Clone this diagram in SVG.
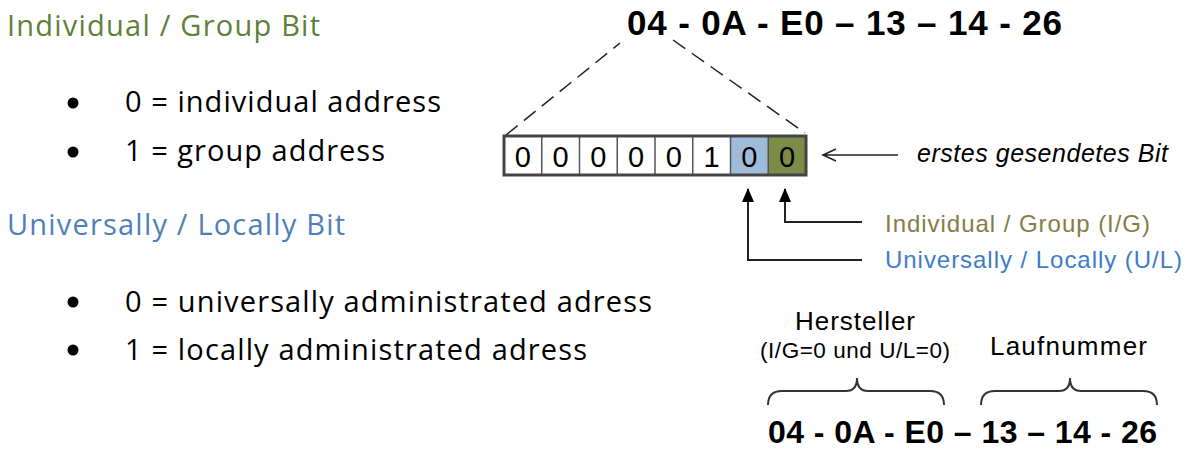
<svg xmlns="http://www.w3.org/2000/svg" width="1191" height="471" viewBox="0 0 1191 471">
<defs>
<style>
.cal{font-family:"Open Sans","Liberation Sans",sans-serif;font-size:29px;fill:#000}
.ar{font-family:"Liberation Sans",Arial,sans-serif}
.bit{font-family:"Liberation Sans",Arial,sans-serif;font-size:29px;fill:#000;text-anchor:middle}
.big{font-family:"Liberation Sans",Arial,sans-serif;font-weight:bold;fill:#000}
.dash{stroke:#222;stroke-width:1.5;stroke-dasharray:15 8;fill:none}
.line{stroke:#222;stroke-width:2;fill:none}
.brace{stroke:#333;stroke-width:2;fill:none}
</style>
<marker id="tri" viewBox="0 0 14 12" refX="13" refY="6" markerWidth="14" markerHeight="12" markerUnits="userSpaceOnUse" orient="auto">
<path d="M0,0 L14,6 L0,12 Z" fill="#000"/>
</marker>
</defs>
<rect width="1191" height="471" fill="#fff"/>

<g id="legend">
<text class="cal" x="7" y="36" style="fill:#5f8038" textLength="313" font-size="31">Individual / Group Bit</text>
<circle cx="73" cy="103" r="5.5" fill="#000"/>
<text class="cal" x="125" y="112" textLength="316">0 = individual address</text>
<circle cx="73" cy="152" r="5.5" fill="#000"/>
<text class="cal" x="125" y="161" textLength="260">1 = group address</text>
<text class="cal" x="7" y="235" style="fill:#4f7fbb" textLength="338" font-size="31">Universally / Locally Bit</text>
<circle cx="73" cy="302" r="5.5" fill="#000"/>
<text class="cal" x="125" y="312" textLength="527">0 = universally administrated adress</text>
<circle cx="73" cy="350" r="5.5" fill="#000"/>
<text class="cal" x="125" y="360" textLength="462">1 = locally administrated adress</text>
</g>

<g id="mac-top">
<text class="big" x="627" y="35" font-size="35" textLength="435">04 - 0A - E0 – 13 – 14 - 26</text>
</g>

<g id="bitfield">
<rect x="504" y="136" width="302" height="39" fill="#fff"/>
<rect x="730.5" y="136" width="37.75" height="39" fill="#a0bbd9"/>
<rect x="768.25" y="136" width="37.75" height="39" fill="#7c8b47"/>
<g stroke="#555" stroke-width="1.5">
<line x1="541.75" y1="136" x2="541.75" y2="175"/>
<line x1="579.5" y1="136" x2="579.5" y2="175"/>
<line x1="617.25" y1="136" x2="617.25" y2="175"/>
<line x1="655" y1="136" x2="655" y2="175"/>
<line x1="692.75" y1="136" x2="692.75" y2="175"/>
<line x1="730.5" y1="136" x2="730.5" y2="175"/>
<line x1="768.25" y1="136" x2="768.25" y2="175"/>
</g>
<rect x="504" y="136" width="302" height="39" fill="none" stroke="#444" stroke-width="3"/>
<text class="bit" x="522.9" y="167">0</text>
<text class="bit" x="560.6" y="167">0</text>
<text class="bit" x="598.4" y="167">0</text>
<text class="bit" x="636.1" y="167">0</text>
<text class="bit" x="673.9" y="167">0</text>
<text class="bit" x="711.6" y="167">1</text>
<text class="bit" x="749.4" y="167">0</text>
<text class="bit" x="787.1" y="167">0</text>
</g>

<g id="labels">
<text class="ar" x="917" y="162" font-size="25" font-style="italic" fill="#000" textLength="251">erstes gesendetes Bit</text>
<text class="ar" x="885" y="232" font-size="24" fill="#857d45" textLength="265">Individual / Group (I/G)</text>
<text class="ar" x="885" y="268" font-size="24" fill="#3d7cc9" textLength="297">Universally / Locally (U/L)</text>
</g>

<g id="mac-bottom">
<text class="ar" x="795" y="330" font-size="26" fill="#000" textLength="120">Hersteller</text>
<text class="ar" x="760" y="358" font-size="22.5" fill="#000" textLength="190">(I/G=0 und U/L=0)</text>
<text class="ar" x="990" y="355" font-size="26" fill="#000" textLength="157">Laufnummer</text>
<path class="brace" d="M768,405 Q768,391 782,391 L846,391 Q857,391 857,378 Q857,391 868,391 L930,391 Q944,391 944,405"/>
<path class="brace" d="M981,405 Q981,391 995,391 L1059,391 Q1070,391 1070,378 Q1070,391 1081,391 L1143,391 Q1157,391 1157,405"/>
<text class="big" x="768" y="443" font-size="32" textLength="389">04 - 0A - E0 – 13 – 14 - 26</text>
</g>

<g id="connectors">
<line class="dash" x1="506" y1="135" x2="620" y2="43"/>
<line class="dash" x1="673" y1="40" x2="805" y2="133"/>
<path d="M898,155 L824,155 M836,149 L823,155 L836,161" stroke="#222" stroke-width="1.5" fill="none"/>
<path class="line" d="M862,222 L785,222 L785,189"/>
<path class="line" d="M862,260 L748,260 L748,189" marker-end="url(#tri)"/>
<path class="line" d="M785,200 L785,189" marker-end="url(#tri)"/>
</g>
</svg>
